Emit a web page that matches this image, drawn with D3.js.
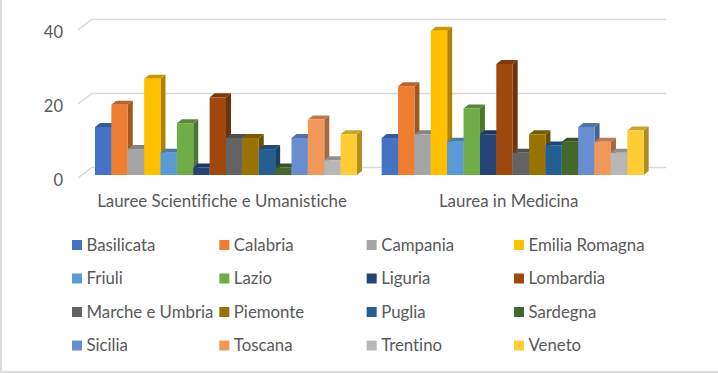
<!DOCTYPE html>
<html>
<head>
<meta charset="utf-8">
<script src="https://cdnjs.cloudflare.com/ajax/libs/d3/7.8.5/d3.min.js"></script>
<style>
    html, body { margin: 0; padding: 0; background: #fff; overflow: hidden; }
    text { font-family: Lato, "Open Sans", sans-serif; fill: #595959; font-variant-ligatures: none; }
</style>
</head>
<body>
<div id="chart"></div>
<script>
const categories = ["Lauree Scientifiche e Umanistiche", "Laurea in Medicina"];
const regions = [
    "Basilicata", "Calabria", "Campania", "Emilia Romagna",
    "Friuli", "Lazio", "Liguria", "Lombardia",
    "Marche e Umbria", "Piemonte", "Puglia", "Sardegna",
    "Sicilia", "Toscana", "Trentino", "Veneto"
];
const scientifiche = [13, 19, 7, 26, 6, 14, 2, 21, 10, 10, 7, 2, 10, 15, 4, 11];
const medicina = [10, 24, 11, 39, 9, 18, 11, 30, 6, 11, 8, 9, 13, 9, 6, 12];
const colors = [
    "#4472C4", "#ED7D31", "#A5A5A5", "#FFC000",
    "#5B9BD5", "#70AD47", "#264478", "#9E480E",
    "#636363", "#997300", "#255E91", "#43682B",
    "#698ED0", "#F1975A", "#B7B7B7", "#FFCD33"
];
const yTicks = [0, 20, 40];

const width = 718, height = 373;
const depthX = 5, depthY = 4;      // bar depth
const wallX = 14, wallY = 10.5;    // floor depth, front edge to back wall

const svg = d3.select("#chart").append("svg")
    .attr("width", width)
    .attr("height", height);

// picture frame
svg.append("rect").attr("width", width).attr("height", height).attr("fill", "#fff");
svg.append("path")
    .attr("d", `M1,0V${height - 1}H${width}`)
    .attr("fill", "none").attr("stroke", "#dcdcdc").attr("stroke-width", 2);

const y = d3.scaleLinear().domain([0, 40]).range([175, 27]);
const x0 = d3.scaleBand().domain(categories).range([95, 643.7]).paddingInner(0.086);
const x1 = d3.scaleBand().domain(regions).range([0, x0.bandwidth()]);
const color = d3.scaleOrdinal().domain(regions).range(colors);

// Grid: floor edge going back, then along the wall
const frontX = 78, frontDrop = 3, wallRight = 666;
svg.append("g").selectAll("path").data(yTicks).enter().append("path")
    .attr("d", d => {
        const yFront = y(d) + frontDrop;
        const yBack = yFront - wallY;
        return `M${frontX},${yFront}L${frontX + wallX},${yBack}H${wallRight}`;
    })
    .attr("fill", "none").attr("stroke", "#d9d9d9").attr("stroke-width", 1.5);

// Y axis
const yAxis = svg.append("g")
    .attr("transform", `translate(63,${frontDrop + 2})`)
    .call(d3.axisLeft(y).tickValues(yTicks).tickSize(0).tickPadding(0));
yAxis.select(".domain").remove();
yAxis.selectAll("text").style("font-size", "16.5px").style("font-family", "Lato");

// Bars, painted left to right so each one hides the side of the previous
const seriesData = [scientifiche, medicina];
categories.forEach((cat, c) => {
    const g = svg.append("g").attr("transform", `translate(${x0(cat)},0)`);
    const bars = g.selectAll("g").data(regions.map((r, i) => ({ region: r, value: seriesData[c][i] })))
        .enter().append("g");

    bars.append("path") // side
        .attr("d", d => {
            const r = x1(d.region) + x1.bandwidth();
            return `M${r},${y(d.value)}l${depthX},${-depthY}V${y(0) - depthY}L${r},${y(0)}Z`;
        })
        .attr("fill", d => d3.rgb(color(d.region)).darker(1.05));

    bars.append("path") // top
        .attr("d", d => {
            const l = x1(d.region), w = x1.bandwidth();
            return `M${l},${y(d.value)}l${depthX},${-depthY}h${w}l${-depthX},${depthY}Z`;
        })
        .attr("fill", d => d3.rgb(color(d.region)).darker(0.65));

    bars.append("rect") // front
        .attr("x", d => x1(d.region))
        .attr("y", d => y(d.value))
        .attr("width", x1.bandwidth())
        .attr("height", d => y(0) - y(d.value))
        .attr("fill", d => color(d.region));
});

// Category labels
svg.append("g").selectAll("text").data(categories).enter().append("text")
    .attr("x", d => x0(d) + x0.bandwidth() / 2 - 4)
    .attr("y", 201)
    .attr("dy", "0.35em")
    .attr("text-anchor", "middle")
    .style("font-size", "16.9px")
    .text(d => d);

// Legend, 4 columns by 4 rows
const legendCol = d3.scalePoint().domain([0, 1, 2, 3]).range([72, 514]);
const legendRow = d3.scalePoint().domain([0, 1, 2, 3]).range([245, 345.5]);
const legend = svg.append("g").selectAll("g").data(regions).enter().append("g")
    .attr("transform", (d, i) => `translate(${legendCol(i % 4)},${legendRow(Math.floor(i / 4))})`);
legend.append("rect")
    .attr("y", -5).attr("width", 10).attr("height", 10)
    .attr("fill", d => color(d));
legend.append("text")
    .attr("x", 14.5)
    .attr("dy", "0.35em")
    .style("font-size", "16.8px")
    .text(d => d);
</script>
</body>
</html>
